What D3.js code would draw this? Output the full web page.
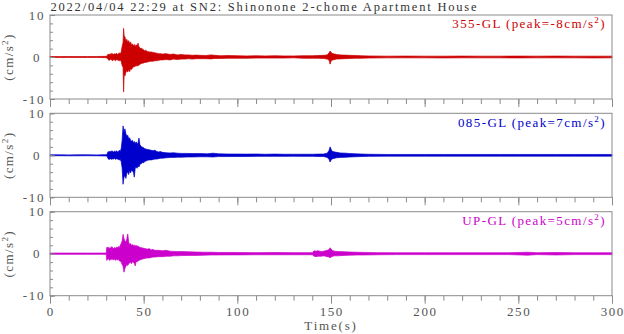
<!DOCTYPE html>
<html><head><meta charset="utf-8">
<script src="https://cdn.jsdelivr.net/npm/d3@7"></script>
<style>
body{margin:0;background:#fff}
text{font-family:"Liberation Serif","Times New Roman",serif}
</style>
</head><body>
<svg id="c" width="624" height="334"></svg>
<script>
// ---- data: [time (s), upper envelope, lower envelope] in cm/s^2 ----
const ch355 = [
 [0,.12,-.12],[5,.1,-.12],[10,.12,-.1],[15,.1,-.12],[20,.12,-.12],[25,.12,-.1],[29,.15,-.15],[30,.15,-.15],
 [30.5,.3,-.3],[31,.7,-.6],[31.5,.5,-.8],[32,.8,-.7],[32.5,.6,-.5],[33,.9,-.8],[33.5,.7,-.9],[34,.6,-.6],
 [34.5,.8,-.7],[35,.7,-.9],[35.5,.9,-.6],[36,.6,-.7],[36.5,.8,-.8],[37,1.0,-.9],[37.5,.7,-.8],[38,1.2,-1.1],
 [38.5,2.5,-2.0],[39,3.5,-2.5],[39.3,6.8,-8.3],[39.6,5.0,-4.0],[40,4.8,-4.5],[40.5,3.8,-3.7],[41,4.2,-3.2],
 [41.5,3.5,-3.6],[42,3.9,-3.0],[42.5,3.2,-3.5],[43,3.6,-2.8],[43.5,2.9,-3.0],[44,3.1,-2.6],[44.5,2.7,-2.4],
 [45,3.0,-2.3],[45.5,2.5,-2.2],[46,2.9,-2.0],[46.5,2.6,-2.2],[47,3.3,-1.9],[47.5,2.4,-2.0],[48,2.2,-1.7],
 [48.5,2.0,-1.6],[49,2.1,-1.5],[49.5,1.8,-1.5],[50,1.7,-1.4],[50.5,1.5,-1.3],[51,1.6,-1.3],[52,1.3,-1.2],
 [53,1.2,-1.1],[54,1.2,-1.0],[55,1.1,-1.0],[56,1.0,-.9],[57,.9,-.9],[58,.8,-.8],[59,.8,-.7],[60,.7,-.7],
 [62,.8,-.6],[64,.6,-.7],[66,.7,-.5],[68,.5,-.6],[70,.6,-.5],[72,.5,-.5],[74,.5,-.4],[76,.4,-.5],[78,.45,-.4],
 [80,.4,-.4],[83,.35,-.4],[86,.5,-.45],[88,.4,-.35],[91,.3,-.35],[95,.35,-.3],[100,.3,-.3],[105,.25,-.3],
 [110,.3,-.25],[115,.25,-.25],[120,.3,-.25],[125,.25,-.25],[130,.25,-.2],[135,.3,-.3],[140,.3,-.3],
 [143,.35,-.3],[146,.4,-.35],[148,.5,-.5],[149,1.0,-.8],[149.5,1.4,-1.7],[150,1.2,-1.0],[150.5,.9,-.8],
 [151,.8,-.7],[152,.7,-.6],[153,.6,-.5],[155,.5,-.45],[157,.45,-.4],[160,.4,-.35],[163,.35,-.3],[166,.3,-.3],
 [170,.25,-.25],[180,.2,-.2],[190,.22,-.2],[200,.2,-.2],[210,.2,-.22],[220,.22,-.2],[230,.2,-.2],[240,.2,-.2],
 [250,.22,-.22],[260,.2,-.2],[270,.22,-.2],[280,.2,-.2],[290,.2,-.22],[300,.2,-.2]
];
const ch085 = [
 [0,.12,-.12],[5,.12,-.1],[10,.1,-.12],[15,.12,-.12],[20,.12,-.1],[25,.1,-.12],[29,.15,-.15],[30,.15,-.15],
 [30.5,.3,-.3],[31,.9,-.8],[31.5,.7,-1.0],[32,1.0,-.9],[32.5,.8,-.8],[33,1.1,-1.0],[33.5,.9,-.8],[34,.8,-.9],
 [34.5,1.0,-.7],[35,.8,-1.0],[35.5,1.1,-.8],[36,.8,-.9],[36.5,.9,-1.0],[37,1.2,-1.1],[37.5,.9,-1.0],[38,1.6,-1.5],
 [38.5,3.5,-3.0],[39,7.0,-6.9],[39.5,5.5,-5.2],[40,6.3,-4.8],[40.5,5.2,-5.5],[41,4.5,-4.3],[41.5,4.8,-4.0],
 [42,3.9,-4.6],[42.5,4.2,-3.6],[43,3.6,-4.2],[43.5,3.4,-3.5],[44,3.6,-3.8],[44.5,3.0,-4.0],[45,3.3,-5.2],
 [45.5,2.8,-3.0],[46,3.2,-2.8],[46.5,2.7,-3.1],[47,3.0,-2.5],[47.5,4.1,-2.8],[48,2.5,-2.2],[48.5,2.2,-2.0],
 [49,2.0,-1.9],[49.5,1.9,-1.7],[50,1.8,-1.8],[50.5,1.6,-1.5],[51,1.5,-1.4],[52,1.4,-1.2],[53,1.3,-1.1],
 [54,1.2,-1.1],[55,1.1,-1.0],[56,1.2,-.9],[57,.9,-.9],[58,.8,-.8],[59,.9,-.7],[60,.7,-.7],[62,.6,-.6],
 [64,.55,-.5],[66,.6,-.5],[68,.5,-.45],[70,.45,-.45],[73,.45,-.4],[76,.4,-.4],[80,.4,-.35],[84,.35,-.35],
 [87,.5,-.4],[90,.35,-.3],[95,.3,-.3],[100,.3,-.28],[105,.28,-.3],[110,.3,-.25],[115,.25,-.25],[120,.28,-.25],
 [125,.25,-.25],[130,.25,-.22],[135,.25,-.25],[140,.25,-.25],[143,.28,-.28],[146,.3,-.3],[148,.5,-.5],
 [149,1.2,-1.0],[149.5,2.0,-1.6],[150,1.5,-1.2],[150.5,1.0,-.9],[151,.9,-.8],[152,.8,-.7],[153,.7,-.6],
 [155,.55,-.5],[158,.5,-.45],[160,.4,-.4],[163,.35,-.35],[166,.3,-.3],[170,.25,-.25],[180,.2,-.2],[190,.2,-.2],
 [200,.2,-.2],[210,.2,-.2],[220,.2,-.2],[230,.2,-.2],[240,.2,-.2],[250,.2,-.2],[260,.2,-.2],[270,.2,-.2],
 [280,.2,-.2],[290,.2,-.2],[300,.2,-.2]
];
const chUP = [
 [0,.15,-.15],[5,.15,-.15],[10,.15,-.15],[15,.15,-.15],[20,.15,-.15],[25,.15,-.15],[30,.15,-.15],
 [30.3,1.5,-1.6],[30.5,1.3,-1.5],[31,1.6,-1.2],[31.5,1.2,-1.4],[32,1.5,-1.6],[32.5,1.3,-1.2],[33,1.7,-1.4],
 [33.5,1.4,-1.3],[34,1.2,-1.5],[34.5,1.5,-1.2],[35,1.3,-1.6],[35.5,1.6,-1.3],[36,1.4,-1.5],[36.5,1.7,-1.4],
 [37,1.5,-1.7],[37.5,2.0,-1.8],[38,2.4,-2.0],[38.5,3.0,-2.6],[39,4.6,-3.0],[39.5,3.6,-4.4],[40,3.0,-3.5],
 [40.5,2.8,-3.0],[41,3.5,-2.6],[41.5,4.7,-2.8],[42,2.8,-2.4],[42.5,2.2,-2.2],[43,2.4,-2.0],[43.5,2.0,-2.4],
 [44,2.2,-1.9],[44.5,1.9,-2.1],[45,2.1,-2.2],[45.5,1.8,-2.9],[46,2.0,-1.8],[46.5,1.7,-2.0],[47,1.9,-1.7],
 [47.5,1.6,-1.6],[48,1.5,-1.5],[49,1.4,-1.3],[50,1.3,-1.2],[51,1.2,-1.1],[52,1.1,-1.0],[53,1.2,-1.0],
 [54,.9,-.9],[55,1.0,-.8],[56,.8,-.8],[58,.8,-.7],[60,.7,-.7],[62,.8,-.6],[64,.6,-.6],[66,.55,-.5],
 [68,.5,-.5],[70,.5,-.45],[74,.45,-.4],[78,.4,-.4],[82,.35,-.35],[86,.35,-.3],[90,.3,-.3],[95,.3,-.28],
 [100,.28,-.28],[110,.25,-.25],[120,.28,-.25],[130,.25,-.25],[140,.25,-.25],[141,.7,-.6],[142,.6,-.7],
 [143,.7,-.6],[144,.6,-.6],[145,.5,-.6],[146,.6,-.5],[147,.7,-.6],[148,.8,-.7],[149,1.0,-.8],[149.5,1.4,-1.0],
 [150,1.1,-.8],[151,.7,-.6],[152,.6,-.5],[154,.5,-.5],[157,.45,-.4],[160,.4,-.35],[164,.35,-.3],[168,.3,-.3],
 [175,.25,-.25],[185,.22,-.22],[200,.22,-.22],[215,.22,-.22],[230,.22,-.22],[245,.22,-.22],[255,.35,-.35],
 [260,.22,-.22],[270,.3,-.3],[280,.22,-.22],[290,.22,-.22],[300,.22,-.22]
];
const channelNames = ["355-GL", "085-GL", "UP-GL"];
const peakValues = [-8, 7, 5];
const xTickValues = [0, 50, 100, 150, 200, 250, 300];
const yTickValues = [10, 0, -10];
const titleText = "2022/04/04 22:29 at SN2: Shinonone 2-chome Apartment House";

// ---- layout / style ----
const series = [ch355, ch085, chUP];
const colors = ["#cc0000", "#0000cc", "#cc00cc"];
const panelTop = [15, 113.3, 211.7];
const panelH = 84;
const axisCol = "#8a8a8a", textCol = "#555";

const svg = d3.select("#c");
const x = d3.scaleLinear().domain([0, 300]).range([50, 612]);

svg.append("text").attr("x", 50.5).attr("y", 11).attr("fill", "#333")
  .attr("font-size", 12.5).attr("textLength", 426).attr("lengthAdjust", "spacing").text(titleText);

series.forEach((data, i) => {
  const top = panelTop[i];
  const y = d3.scaleLinear().domain([-10, 10]).range([top + panelH, top]);
  const g = svg.append("g");

  // trace
  const area = d3.area().x(d => x(d[0])).y0(d => y(d[2])).y1(d => y(d[1]));
  g.append("path").datum(data).attr("d", area)
    .attr("fill", colors[i]).attr("stroke", colors[i]).attr("stroke-width", 0.7);

  // frame
  g.append("rect").attr("x", 50).attr("y", top).attr("width", 562).attr("height", panelH)
    .attr("fill", "none").attr("stroke", axisCol).attr("stroke-width", 1);

  // left ticks (inward)
  g.append("g").attr("transform", "translate(50,0)").attr("color", axisCol)
    .call(d3.axisRight(y).tickValues(d3.range(-10, 11, 2)).tickSize(3).tickFormat(""))
    .call(s => s.select(".domain").remove());
  g.append("g").attr("transform", "translate(50,0)").attr("color", axisCol)
    .call(d3.axisRight(y).tickValues(yTickValues).tickSize(5).tickFormat(""))
    .call(s => s.select(".domain").remove());

  // bottom ticks (outward)
  g.append("g").attr("transform", `translate(0,${top + panelH})`).attr("color", axisCol)
    .call(d3.axisBottom(x).tickValues(d3.range(0, 301, 10)).tickSize(5).tickFormat(""))
    .call(s => s.select(".domain").remove());
  g.append("g").attr("transform", `translate(0,${top + panelH})`).attr("color", axisCol)
    .call(d3.axisBottom(x).tickValues(xTickValues).tickSize(8).tickFormat(""))
    .call(s => s.select(".domain").remove());

  // y tick labels
  yTickValues.forEach(v => {
    g.append("text").attr("x", v === 0 ? 41 : 45).attr("y", y(v) + 4.5)
      .attr("text-anchor", "end").attr("font-size", 13).attr("letter-spacing", 1.6)
      .attr("fill", textCol).text(v);
  });

  // y axis title
  const yl = g.append("text").attr("transform", `translate(13,${y(0)}) rotate(-90)`)
    .attr("text-anchor", "middle").attr("font-size", 13).attr("letter-spacing", 1.4).attr("fill", textCol);
  yl.append("tspan").text("(cm/s");
  yl.append("tspan").attr("font-size", 9).attr("dy", -5).text("2");
  yl.append("tspan").attr("dy", 5).text(")");

  // channel label
  const lb = g.append("text").attr("x", 606).attr("y", top + 13.3).attr("text-anchor", "end")
    .attr("font-size", 13).attr("letter-spacing", 1.4).attr("fill", colors[i]);
  lb.append("tspan").text(`${channelNames[i]} (peak=${peakValues[i]}cm/s`);
  lb.append("tspan").attr("font-size", 9).attr("dy", -5).text("2");
  lb.append("tspan").attr("dy", 5).text(")");

  if (i === 2) {
    xTickValues.forEach(v => {
      g.append("text").attr("x", x(v) + 0.8).attr("y", 315.7).attr("text-anchor", "middle")
        .attr("font-size", 13).attr("letter-spacing", 1.6).attr("fill", textCol).text(v);
    });
    g.append("text").attr("x", 331).attr("y", 330).attr("text-anchor", "middle")
      .attr("font-size", 13).attr("letter-spacing", 1.8).attr("fill", textCol).text("Time(s)");
  }
});
</script>
</body></html>
